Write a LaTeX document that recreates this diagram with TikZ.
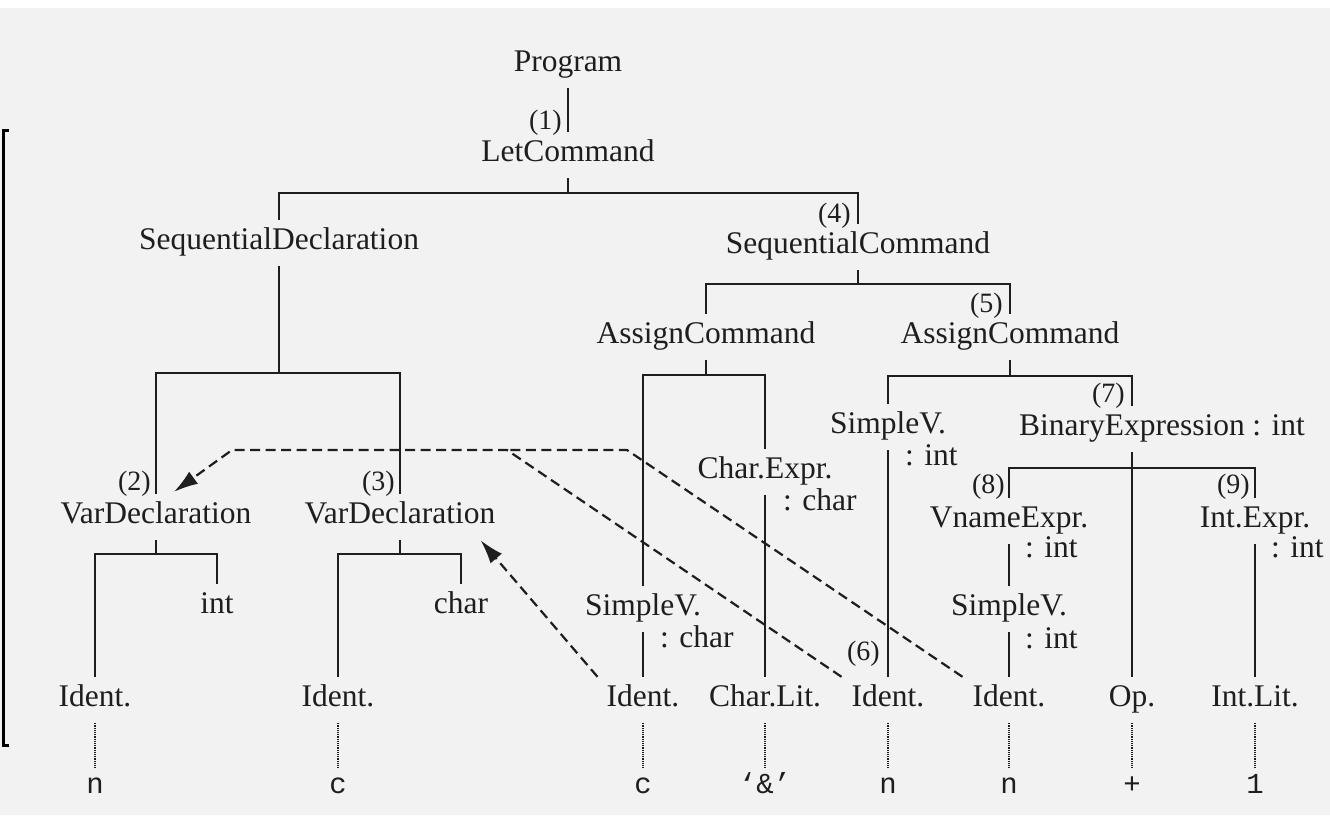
\documentclass[tikz,border=0pt]{standalone}
\usepackage{fontspec}
\setmainfont{Liberation Serif}
\newfontfamily\leafmono{Liberation Mono}
\usetikzlibrary{calc,arrows.meta}
\definecolor{ink}{HTML}{1E1E1E}
\definecolor{paper}{HTML}{F2F2F2}
\tikzset{
  tn/.style={anchor=base, inner xsep=0pt, inner ysep=8pt, text height=21pt, text depth=9pt,
             font=\fontsize{31.5}{36}\selectfont, text=ink},
  typ/.style={anchor=base west, inner sep=0pt, font=\fontsize{31.5}{36}\selectfont, text=ink},
  prodnum/.style={anchor=base east, inner sep=0pt, font=\fontsize{28}{32}\selectfont, text=ink},
  leaf/.style={anchor=base, inner xsep=0pt, inner ysep=8pt, text height=16pt, text depth=4pt,
               font=\leafmono\fontsize{29}{33}\selectfont, text=ink},
  treeline/.style={draw=ink, line width=2pt},
  lexline/.style={draw=ink, line width=1.1pt, dash pattern=on 1.2pt off 1pt},
  bindline/.style={draw=ink, line width=2.2pt, dash pattern=on 10pt off 5.5pt},
  bindtip/.style={bindline, -{Latex[length=24pt,width=15pt]}},
}
\begin{document}
\begin{tikzpicture}[x=1pt, y=-1pt]
  % page
  \fill[paper] (0,0) rectangle (1330,815);
  \fill[white] (0,0) rectangle (1330,8);
  \useasboundingbox (0,0) rectangle (1330,815);
  \draw[black, line width=3pt] (9,130) -- (3,130) -- (3,745) -- (9,745);

  % phrase nodes
  \node[tn] (prog) at (568,71)  {Program};
  \node[tn] (let)  at (568,161) {LetCommand};
  \node[tn] (sd)   at (279,249) {SequentialDeclaration};
  \node[tn] (sc)   at (858,253) {SequentialCommand};
  \node[tn] (vd2)  at (156,523) {VarDeclaration};
  \node[tn] (vd3)  at (400,523) {VarDeclaration};
  \node[tn] (tint) at (217,613) {int};
  \node[tn] (tchr) at (461,613) {char};
  \node[tn] (ac1)  at (706,343) {AssignCommand};
  \node[tn] (ac2)  at (1010,343) {AssignCommand};
  \node[tn] (ce)   at (765,478) {Char.Expr.};
  \node[tn] (sv1)  at (643,615) {SimpleV.};
  \node[tn] (sv2)  at (888,433) {SimpleV.};
  \node[tn] (be)   at (1132,435) {BinaryExpression};
  \node[tn] (ve)   at (1009,527) {VnameExpr.};
  \node[tn] (ie)   at (1255,527) {Int.Expr.};
  \node[tn] (sv3)  at (1009,615) {SimpleV.};

  % terminal nodes
  \node[tn] (id1) at (95,706)   {Ident.};
  \node[tn] (id2) at (338,706)  {Ident.};
  \node[tn] (id3) at (643,706)  {Ident.};
  \node[tn] (cl)  at (765,706)  {Char.Lit.};
  \node[tn] (id4) at (888,706)  {Ident.};
  \node[tn] (id5) at (1009,706) {Ident.};
  \node[tn] (op)  at (1132,706) {Op.};
  \node[tn] (il)  at (1255,706) {Int.Lit.};

  % spellings
  \node[leaf] (s1) at (95,793)   {n};
  \node[leaf] (s2) at (338,793)  {c};
  \node[leaf] (s3) at (643,793)  {c};
  \node[leaf] (s4) at (765,793)  {‘\&’};
  \node[leaf] (s5) at (888,793)  {n};
  \node[leaf] (s6) at (1009,793) {n};
  \node[leaf] (s7) at (1132,793) {+};
  \node[leaf] (s8) at (1255,793) {1};

  % types
  \node[typ] (t1) at ($(sv1.base)+(17,32)$) {: char};
  \node[typ] (t2) at ($(ce.base)+(18,32)$)  {: char};
  \node[typ] (t3) at ($(sv2.base)+(17,32)$) {: int};
  \node[typ] (t4) at ($(ve.base)+(16,30)$)  {: int};
  \node[typ] (t5) at ($(ie.base)+(16,30)$)  {: int};
  \node[typ] (t6) at ($(sv3.base)+(16,33)$) {: int};
  \node[typ] (t7) at ($(be.base east)+(7,0)$) {: int};

  % numbered subtrees
  \node[prodnum] (n1) at ($(let.base)+(-6,-32)$) {(1)};
  \node[prodnum] (n2) at ($(vd2.base)+(-5,-33)$) {(2)};
  \node[prodnum] (n3) at ($(vd3.base)+(-5,-33)$) {(3)};
  \node[prodnum] (n4) at ($(sc.base)+(-7,-31)$)  {(4)};
  \node[prodnum] (n5) at ($(ac2.base)+(-7,-31)$) {(5)};
  \node[prodnum] (n6) at ($(id4.base)+(-8,-46)$) {(6)};
  \node[prodnum] (n7) at ($(be.base)+(-7,-33)$)  {(7)};
  \node[prodnum] (n8) at ($(ve.base)+(-4,-34)$)  {(8)};
  \node[prodnum] (n9) at ($(ie.base)+(-5,-34)$)  {(9)};

  % tree branches
  \draw[treeline] (prog.south) -- (let.north);
  \draw[treeline] (let.south) -- ++(0,15) coordinate (b1) (b1) -| (sd.north) (b1) -| (sc.north);
  \draw[treeline] (sd.south) -- ++(0,107) coordinate (b2) (b2) -| (vd2.north) (b2) -| (vd3.north);
  \draw[treeline] (sc.south) -- ++(0,14) coordinate (b3) (b3) -| (ac1.north) (b3) -| (ac2.north);
  \draw[treeline] (vd2.south) -- ++(0,14) coordinate (b4) (b4) -| (id1.north) (b4) -| (tint.north);
  \draw[treeline] (vd3.south) -- ++(0,14) coordinate (b5) (b5) -| (id2.north) (b5) -| (tchr.north);
  \draw[treeline] (ac1.south) -- ++(0,15) coordinate (b6) (b6) -| (sv1.north) (b6) -| (ce.north);
  \draw[treeline] (ac2.south) -- ++(0,16) coordinate (b7) (b7) -| (sv2.north) (b7) -| (be.north);
  \draw[treeline] (be.south) -- ++(0,16) coordinate (b8) (b8) -| (ve.north) (b8) -| (ie.north);
  \draw[treeline] (be.south) -- (op.north);
  \draw[treeline] (sv1.south) -- (id3.north);
  \draw[treeline] (ce.south) -- (cl.north);
  \draw[treeline] (sv2.south) -- (id4.north);
  \draw[treeline] (ve.south) -- (sv3.north);
  \draw[treeline] (sv3.south) -- (id5.north);
  \draw[treeline] (ie.south) -- (il.north);

  % terminal spellings
  \foreach \t/\s in {id1/s1, id2/s2, id3/s3, cl/s4, id4/s5, id5/s6, op/s7, il/s8}
    \draw[lexline] (\t.south) -- (\s.north);

  % identifier bindings
  \coordinate (ja) at (507,450);
  \coordinate (jb) at (627,450);
  \coordinate (jc) at (232,450);
  \draw[bindtip] ($(id4.north west)+(-10,0)$) -- (ja) -- (jc) -- ($(vd2.north)+(18,-2)$);
  \draw[bindline] ($(id5.north west)+(-10,0)$) -- (jb) -- (ja);
  \draw[bindtip] ($(id3.north west)+(-9,0)$) -- ($(vd3.south east)+(-15,0)$);
\end{tikzpicture}
\end{document}
